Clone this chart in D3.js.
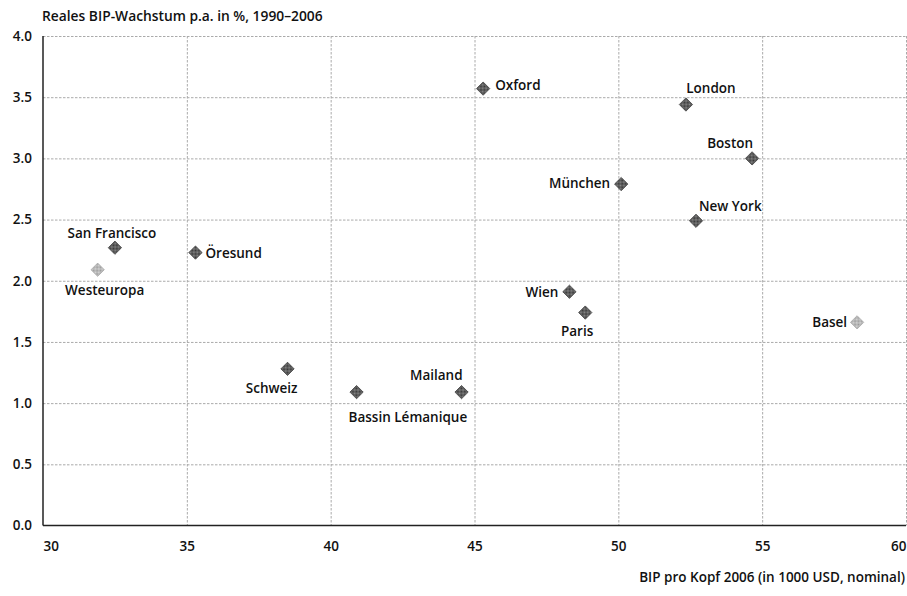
<!DOCTYPE html>
<html>
<head>
<meta charset="utf-8">
<script src="https://cdn.jsdelivr.net/npm/d3@7"></script>
<style>
  body { margin: 0; background: #fff; }
  text { font-family: "Open Sans", sans-serif; font-weight: 600; fill: #111; }
</style>
</head>
<body>
<div id="chart"></div>
<script>
// data
const regions = ["San Francisco", "Westeuropa", "Öresund", "Oxford", "London", "Boston",
  "München", "New York", "Wien", "Paris", "Basel", "Schweiz", "Bassin Lémanique", "Mailand"];
const gdpPerCapita = [32.5, 31.9, 35.3, 45.3, 52.35, 54.65, 50.1, 52.7, 48.3, 48.85, 58.3, 38.5, 40.9, 44.55];
const growth = [2.27, 2.09, 2.23, 3.57, 3.44, 3.0, 2.79, 2.49, 1.91, 1.74, 1.66, 1.28, 1.09, 1.09];
const reference = ["Westeuropa", "Basel"]; // drawn lighter
const xTicks = [30, 35, 40, 45, 50, 55, 60];
const yTicks = [0, 0.5, 1, 1.5, 2, 2.5, 3, 3.5, 4];

const yTitle = "Reales BIP-Wachstum p.a. in %, 1990–2006";
const xTitle = "BIP pro Kopf 2006 (in 1000 USD, nominal)";

// where each label sits relative to its marker
const labelPos = {
  "San Francisco": { dx: -3, dy: -10, anchor: "middle" },
  "Westeuropa": { dx: 7, dy: 25, anchor: "middle" },
  "Öresund": { dx: 10, dy: 5, anchor: "start" },
  "Oxford": { dx: 12, dy: 1, anchor: "start" },
  "London": { dx: 25, dy: -12, anchor: "middle" },
  "Boston": { dx: 1, dy: -10, anchor: "end" },
  "München": { dx: -11, dy: 4, anchor: "end" },
  "New York": { dx: 3, dy: -10, anchor: "start" },
  "Wien": { dx: -11, dy: 5, anchor: "end" },
  "Paris": { dx: 8, dy: 23, anchor: "end" },
  "Basel": { dx: -10, dy: 5, anchor: "end" },
  "Schweiz": { dx: 10, dy: 24, anchor: "end" },
  "Bassin Lémanique": { dx: -8, dy: 30, anchor: "start" },
  "Mailand": { dx: 1, dy: -12, anchor: "end" }
};

const W = 907, H = 596;
const m = { left: 43, right: 906, top: 36, bottom: 525.5 };
const fs = 13.5;

const x = d3.scaleLinear().domain([30, 60]).range([m.left, m.right]);
const y = d3.scaleLinear().domain([0, 4]).range([m.bottom, m.top]);

const svg = d3.select("#chart").append("svg")
  .attr("width", W).attr("height", H);

// grid
svg.append("g").attr("class", "x-grid")
  .attr("transform", `translate(0, ${m.top})`)
  .call(d3.axisBottom(x).tickValues(xTicks.slice(1)).tickSize(m.bottom - m.top).tickFormat(""))
  .call(g => g.select(".domain").remove())
  .call(g => g.selectAll("line").attr("stroke", "#aaa").attr("stroke-dasharray", "2.5,1.5"));

svg.append("g").attr("class", "y-grid")
  .attr("transform", `translate(${m.left}, 0)`)
  .call(d3.axisRight(y).tickValues(yTicks.slice(1)).tickSize(m.right - m.left).tickFormat(""))
  .call(g => g.select(".domain").remove())
  .call(g => g.selectAll("line").attr("stroke", "#aaa").attr("stroke-dasharray", "2.5,1.5"));

// axis lines
svg.append("line").attr("x1", m.left).attr("x2", m.left).attr("y1", m.top).attr("y2", m.bottom)
  .attr("stroke", "#222").attr("stroke-width", 1.5);
svg.append("line").attr("x1", m.left).attr("x2", m.right).attr("y1", m.bottom).attr("y2", m.bottom)
  .attr("stroke", "#222").attr("stroke-width", 1.5);

// tick labels
const yAxis = svg.append("g").attr("class", "y-axis")
  .attr("transform", `translate(${m.left}, 0)`)
  .call(d3.axisLeft(y).tickValues(yTicks).tickSize(0).tickPadding(11).tickFormat(d3.format(".1f")));
yAxis.select(".domain").remove();
yAxis.selectAll("text").attr("font-size", fs).attr("font-family", null);

const xAxis = svg.append("g").attr("class", "x-axis")
  .attr("transform", `translate(0, ${m.bottom})`)
  .call(d3.axisBottom(x).tickValues(xTicks).tickSize(0).tickPadding(16).tickFormat(d3.format("d")));
xAxis.select(".domain").remove();
xAxis.selectAll("text").attr("font-size", fs).attr("font-family", null)
  .attr("text-anchor", (d, i) => i === 0 ? "start" : i === xTicks.length - 1 ? "end" : "middle");

// titles
svg.append("text").attr("x", 42).attr("y", 21).attr("font-size", 13.8).text(yTitle);
svg.append("text").attr("x", 905).attr("y", 582).attr("font-size", fs)
  .attr("text-anchor", "end").text(xTitle);

// markers
const defs = svg.append("defs");
function hatch(id, bg, ink) {
  const p = defs.append("pattern").attr("id", id).attr("patternUnits", "userSpaceOnUse")
    .attr("width", 2).attr("height", 2);
  p.append("rect").attr("width", 2).attr("height", 2).attr("fill", bg);
  p.append("rect").attr("width", 1).attr("height", 1).attr("fill", ink);
  p.append("rect").attr("x", 1).attr("y", 1).attr("width", 1).attr("height", 1).attr("fill", ink);
}
hatch("darkHatch", "#8a8a8a", "#333");
hatch("lightHatch", "#d8d8d8", "#999");

const points = regions.map((name, i) => ({ name, gdp: gdpPerCapita[i], growth: growth[i] }));
const diamond = d3.symbol().type(d3.symbolSquare).size(88);

const pts = svg.append("g").selectAll("g").data(points).join("g")
  .attr("transform", d => `translate(${x(d.gdp)}, ${y(d.growth)})`);

pts.append("path")
  .attr("d", diamond)
  .attr("transform", "rotate(45)")
  .attr("fill", d => reference.includes(d.name) ? "url(#lightHatch)" : "url(#darkHatch)")
  .attr("stroke", d => reference.includes(d.name) ? "#aaa" : "#444")
  .attr("stroke-width", 0.8);

pts.append("text")
  .attr("x", d => labelPos[d.name].dx)
  .attr("y", d => labelPos[d.name].dy)
  .attr("text-anchor", d => labelPos[d.name].anchor)
  .attr("font-size", fs)
  .text(d => d.name);
</script>
</body>
</html>
